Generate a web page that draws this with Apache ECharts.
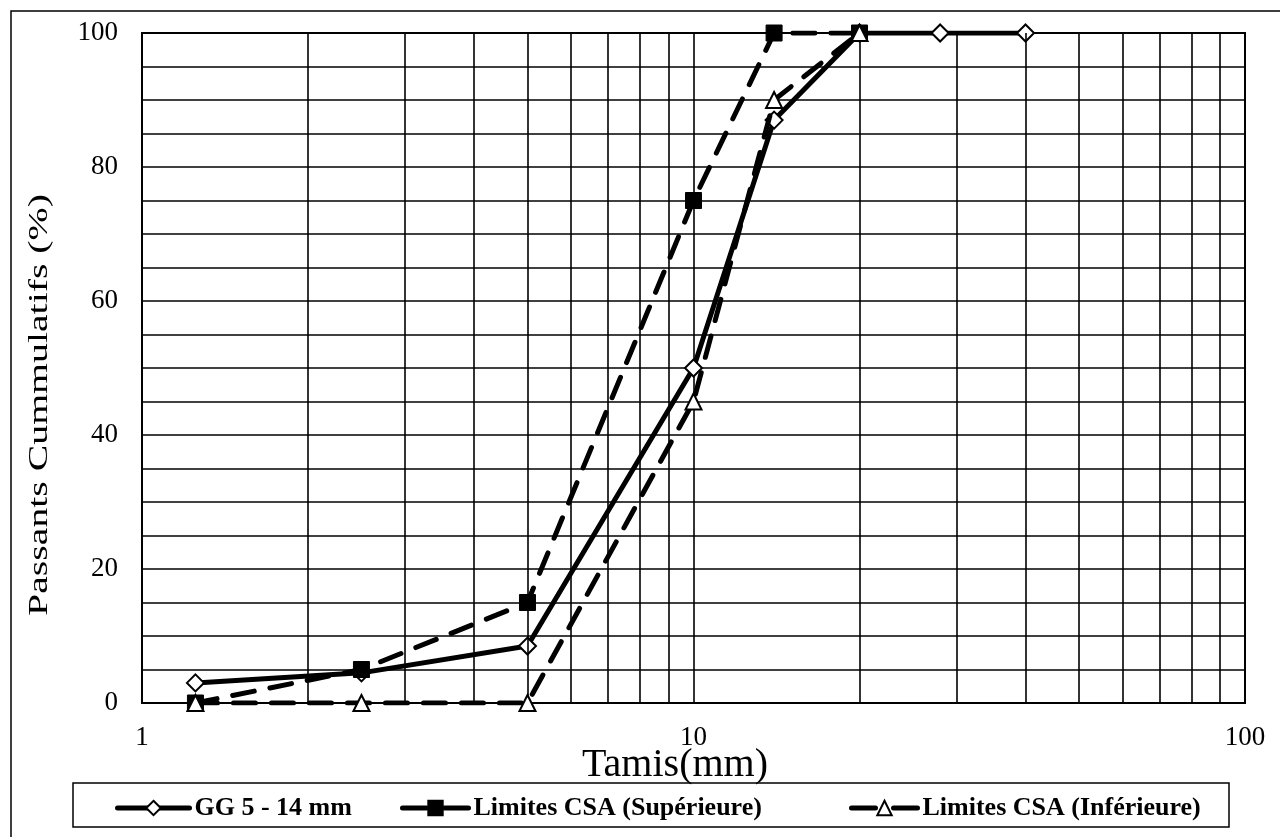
<!DOCTYPE html>
<html>
<head>
<meta charset="utf-8">
<title>Granulométrie GG 5 - 14 mm</title>
<script src="https://cdn.jsdelivr.net/npm/echarts@6/dist/echarts.min.js"></script>
<style>
  html, body { margin: 0; padding: 0; background: #fff; }
  #chart { width: 1280px; height: 837px; }
</style>
</head>
<body>
<div id="chart"></div>
<script>
// Sieve openings (mm) and cumulative passing (%)
const sievesGG = [1.25, 2.5, 5, 10, 14, 20, 28, 40];
const passingGG = [3, 4.5, 8.5, 50, 87, 100, 100, 100];

const sievesCSA = [1.25, 2.5, 5, 10, 14, 20];
const csaUpper = [0, 5, 15, 75, 100, 100];
const csaLower = [0, 0, 0, 45, 90, 100];

const seriesNames = ['GG 5 - 14 mm', 'Limites CSA (Supérieure)', 'Limites CSA (Inférieure)'];

// Intermediate vertical grid lines of the log axis
const logGridLines = [2, 3, 4, 5, 6, 7, 8, 9, 20, 30, 40, 50, 60, 70, 80, 90];

const FONT = '"Liberation Serif", "Times New Roman", serif';

function pairs(xs, ys) {
  return xs.map((x, i) => [x, ys[i]]);
}

const chart = echarts.init(document.getElementById('chart'), null, { renderer: 'canvas' });

const legendText = { fontFamily: FONT, fontSize: 26, fontWeight: 'bold', color: '#000' };
function legendAt(name, left, width, dash) {
  return {
    data: [name],
    left: left,
    top: 790,
    orient: 'horizontal',
    itemWidth: width,
    itemHeight: 18,
    textStyle: legendText,
    lineStyle: { width: 5, type: dash, cap: 'round', color: '#000' },
    selectedMode: false
  };
}

chart.setOption({
  animation: false,
  backgroundColor: '#fff',
  grid: { left: 142, right: 35, top: 33, bottom: 134 },
  xAxis: {
    type: 'log',
    logBase: 10,
    min: 1,
    max: 100,
    axisLine: { show: true, lineStyle: { color: '#000', width: 2 } },
    axisTick: { show: false },
    axisLabel: { fontFamily: FONT, fontSize: 27, color: '#000', margin: 21 },
    splitLine: { show: true, lineStyle: { color: '#000', width: 1.6 } }
  },
  yAxis: {
    type: 'value',
    min: 0,
    max: 100,
    interval: 20,
    axisLine: { show: true, lineStyle: { color: '#000', width: 2 } },
    axisTick: { show: false },
    axisLabel: { fontFamily: FONT, fontSize: 27, color: '#000', margin: 24 },
    splitLine: { show: true, lineStyle: { color: '#000', width: 1.6 } },
    minorTick: { show: false, splitNumber: 4 },
    minorSplitLine: { show: true, lineStyle: { color: '#000', width: 1.6 } }
  },
  legend: [
    legendAt(seriesNames[0], 110, 72, 'solid'),
    legendAt(seriesNames[1], 395, 66, [24, 18]),
    legendAt(seriesNames[2], 844, 66, [24, 18])
  ],
  graphic: [
    // outer frame
    { type: 'rect', shape: { x: 11, y: 11, width: 1320, height: 900 }, style: { fill: 'none', stroke: '#000', lineWidth: 1.5 }, silent: true, z: 0 },
    // legend frame
    { type: 'rect', shape: { x: 73, y: 783, width: 1156, height: 44 }, style: { fill: 'none', stroke: '#000', lineWidth: 1.5 }, silent: true, z: 0 },
    // plot border
    { type: 'rect', shape: { x: 142, y: 33, width: 1103, height: 670 }, style: { fill: 'none', stroke: '#000', lineWidth: 2 }, silent: true, z: 1 },
    {
      type: 'text', x: 40, y: 405, rotation: Math.PI / 2, scaleX: 1.42,
      style: { text: 'Passants Cummulatifs (%)', fontFamily: FONT, fontSize: 28, fill: '#000', align: 'center', verticalAlign: 'middle' }
    },
    {
      type: 'text', x: 675, y: 765,
      style: { text: 'Tamis(mm)', fontFamily: FONT, fontSize: 40, fill: '#000', align: 'center', verticalAlign: 'middle' }
    }
  ],
  series: [
    {
      name: 'grille',
      type: 'line',
      data: [],
      silent: true,
      z: 1,
      markLine: {
        silent: true,
        symbol: ['none', 'none'],
        label: { show: false },
        lineStyle: { color: '#000', width: 1.6, type: 'solid' },
        data: logGridLines.map(v => ({ xAxis: v }))
      }
    },
    {
      name: seriesNames[0],
      type: 'line',
      data: pairs(sievesGG, passingGG),
      z: 3,
      symbol: 'diamond',
      symbolSize: 17,
      lineStyle: { color: '#000', width: 5, cap: 'round' },
      itemStyle: { color: '#fff', borderColor: '#000', borderWidth: 2 }
    },
    {
      name: seriesNames[1],
      type: 'line',
      data: pairs(sievesCSA, csaUpper),
      z: 4,
      symbol: 'rect',
      symbolSize: 16,
      lineStyle: { color: '#000', width: 5, type: [22, 16], cap: 'round' },
      itemStyle: { color: '#000', borderColor: '#000', borderWidth: 1 }
    },
    {
      name: seriesNames[2],
      type: 'line',
      data: pairs(sievesCSA, csaLower),
      z: 5,
      symbol: 'triangle',
      symbolSize: 16,
      lineStyle: { color: '#000', width: 5, type: [22, 16], cap: 'round' },
      itemStyle: { color: '#fff', borderColor: '#000', borderWidth: 2 }
    }
  ]
});
</script>
</body>
</html>
